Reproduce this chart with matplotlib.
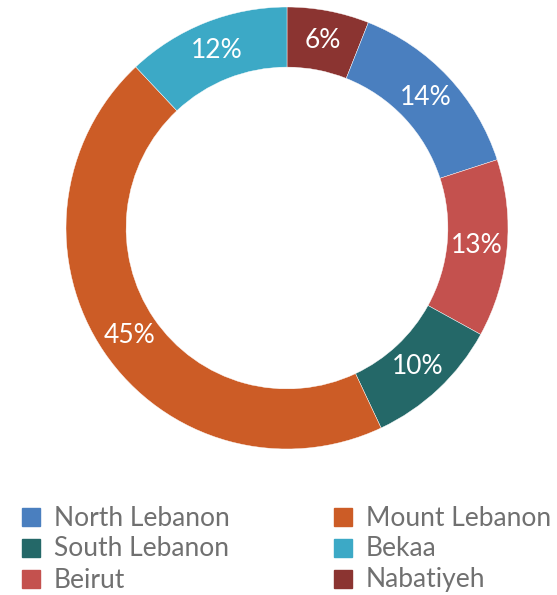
import matplotlib
matplotlib.use("Agg")
import matplotlib.pyplot as plt
from matplotlib.patches import Rectangle

plt.rcParams['font.family'] = ['Lato', 'DejaVu Sans']

# slices clockwise from 12 o'clock
regions = ['Nabatiyeh', 'North Lebanon', 'Beirut', 'South Lebanon', 'Mount Lebanon', 'Bekaa']
shares = [6, 14, 13, 10, 45, 12]
colors = ['#8B3431', '#4A7FBF', '#C4514E', '#246868', '#CC5C26', '#3CA9C6']

# legend order (column by column)
legend_order = ['North Lebanon', 'South Lebanon', 'Beirut', 'Mount Lebanon', 'Bekaa', 'Nabatiyeh']

W, H = 557, 595
fig = plt.figure(figsize=(W / 100, H / 100), dpi=100)

# donut centre (287, 228) px, outer radius 221 px
cx, cy, R = 287, 228, 221
ax = fig.add_axes([(cx - R) / W, (H - cy - R) / H, 2 * R / W, 2 * R / H])
wedges, texts, autotexts = ax.pie(
    shares, colors=colors, startangle=90, counterclock=False,
    radius=1.0, autopct='%d%%', pctdistance=0.862,
    wedgeprops=dict(width=0.272, edgecolor='white', linewidth=0.3),
    textprops=dict(color='white', fontsize=19))
ax.set_xlim(-1, 1)
ax.set_ylim(-1, 1)
ax.set_aspect('auto')
ax.axis('off')

# legend drawn by hand to hit the reference layout
col_x = [22, 334]
row_y = [517, 548, 579]
color_of = dict(zip(regions, colors))
for i, name in enumerate(legend_order):
    x = col_x[i // 3]
    y = row_y[i % 3]
    fig.patches.append(Rectangle((x / W, (H - y - 9) / H), 18 / W, 18 / H,
                                 transform=fig.transFigure, color=color_of[name]))
    fig.text((x + 32) / W, (H - y - 1) / H, name, fontsize=19,
             color='#707070', va='center', ha='left')

fig.savefig('out.png', dpi=100)
